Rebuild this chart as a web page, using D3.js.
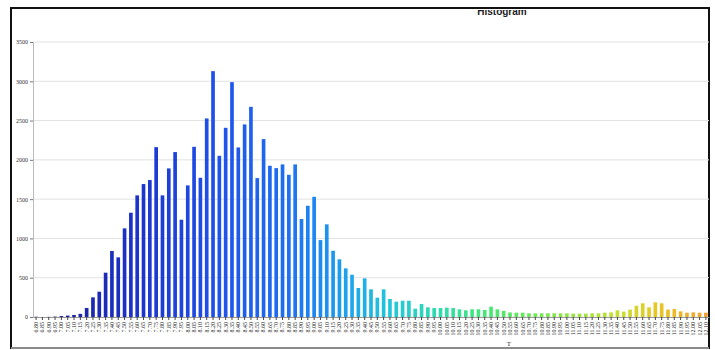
<!DOCTYPE html>
<html>
<head>
<meta charset="utf-8">
<script src="https://cdn.jsdelivr.net/npm/d3@7"></script>
<style>
  html, body { margin: 0; padding: 0; background: #fff; }
  svg { display: block; }
</style>
</head>
<body>
<svg id="chart" width="715" height="350"></svg>
<script>
// Bin labels along the x axis
const binLabels = [
  "6.80","6.85","6.90","6.95","7.00","7.05","7.10","7.15","7.20","7.25",
  "7.30","7.35","7.40","7.45","7.50","7.55","7.60","7.65","7.70","7.75",
  "7.80","7.85","7.90","7.95","8.00","8.05","8.10","8.15","8.20","8.25",
  "8.30","8.35","8.40","8.45","8.50","8.55","8.60","8.65","8.70","8.75",
  "8.80","8.85","8.90","8.95","9.00","9.05","9.10","9.15","9.20","9.25",
  "9.30","9.35","9.40","9.45","9.50","9.55","9.60","9.65","9.70","9.75",
  "9.80","9.85","9.90","9.95","10.00","10.05","10.10","10.15","10.20","10.25",
  "10.30","10.35","10.40","10.45","10.50","10.55","10.60","10.65","10.70","10.75",
  "10.80","10.85","10.90","10.95","11.00","11.05","11.10","11.15","11.20","11.25",
  "11.30","11.35","11.40","11.45","11.50","11.55","11.60","11.65","11.70","11.75",
  "11.80","11.85","11.90","11.95","12.00","12.05","12.10"
];

// Count in each bin
const counts = [
  3, 0, 2, 5, 12, 18, 25, 40, 115, 250,
  322, 564, 840, 759, 1128, 1327, 1548, 1692, 1743, 2162,
  1548, 1891, 2099, 1238, 1675, 2166, 1772, 2527, 3129, 2052,
  2408, 2989, 2158, 2451, 2675, 1768, 2264, 1925, 1895, 1942,
  1810, 1942, 1247, 1416, 1530, 979, 1179, 843, 734, 619,
  538, 369, 492, 352, 246, 352, 229, 195, 207, 207,
  106, 165, 123, 114, 114, 119, 114, 98, 85, 98,
  98, 89, 131, 98, 78, 58, 55, 55, 47, 47,
  47, 47, 47, 47, 47, 43, 43, 43, 47, 47,
  55, 59, 85, 68, 94, 144, 174, 123, 187, 174,
  94, 102, 72, 55, 59, 55, 55
];

// Y axis tick values
const yTicks = [0, 500, 1000, 1500, 2000, 2500, 3000, 3500];

// Colour ramp stops along the bins (bin index -> colour)
const rampIndex = [0, 15, 28, 40, 48, 56, 64, 72, 82, 92, 98, 106];
const rampColors = ["#1a1c90", "#1c32c8", "#1f4fea", "#1e70f2", "#1c9cf0", "#22c6da",
                    "#2fdcac", "#48e872", "#82e64a", "#c6e032", "#e6c824", "#f0a232"];

const data = binLabels.map((label, i) => ({ label, value: counts[i], index: i }));

const svg = d3.select("#chart");

const plotLeft = 33, plotRight = 709, plotTop = 42, plotBottom = 317;

const x = d3.scaleBand()
  .domain(binLabels)
  .range([plotLeft, plotRight])
  .paddingInner(0.42)
  .paddingOuter(0.2);

const y = d3.scaleLinear()
  .domain([0, 3500])
  .range([plotBottom, plotTop]);

const color = d3.scaleLinear()
  .domain(rampIndex)
  .range(rampColors)
  .interpolate(d3.interpolateRgb);

// Panel frame
svg.append("rect")
  .attr("x", 11).attr("y", 8)
  .attr("width", 698).attr("height", 340)
  .attr("fill", "none")
  .attr("stroke", "#111")
  .attr("stroke-width", 2);
svg.append("line")
  .attr("x1", 11).attr("x2", 709)
  .attr("y1", 348).attr("y2", 348)
  .attr("stroke", "#8a8a8a")
  .attr("stroke-width", 2);

// Title, partly hidden under the frame's top edge
svg.append("defs").append("clipPath").attr("id", "titleClip")
  .append("rect").attr("x", 0).attr("y", 10).attr("width", 715).attr("height", 20);
svg.append("text")
  .attr("clip-path", "url(#titleClip)")
  .attr("x", 502).attr("y", 15)
  .attr("text-anchor", "middle")
  .attr("font-family", "Liberation Sans, Arial, sans-serif")
  .attr("font-weight", "bold")
  .attr("font-size", 10)
  .attr("fill", "#222")
  .text("Histogram");

// Horizontal gridlines
svg.append("g")
  .selectAll("line")
  .data(yTicks.filter(d => d > 0))
  .join("line")
  .attr("x1", plotLeft).attr("x2", plotRight)
  .attr("y1", d => y(d)).attr("y2", d => y(d))
  .attr("stroke", "#e2e2e2")
  .attr("stroke-width", 1);

// Bars
svg.append("g")
  .selectAll("rect")
  .data(data)
  .join("rect")
  .attr("x", d => x(d.label))
  .attr("y", d => y(d.value))
  .attr("width", x.bandwidth())
  .attr("height", d => y(0) - y(d.value))
  .attr("fill", d => color(d.index));

// Y axis
const yAxis = svg.append("g")
  .attr("transform", `translate(${plotLeft},0)`)
  .call(d3.axisLeft(y).tickValues(yTicks).tickSize(3).tickPadding(2).tickFormat(d3.format("d")));
yAxis.select(".domain").attr("stroke", "#bbb");
yAxis.selectAll(".tick line").attr("stroke", "#777");
yAxis.selectAll("text")
  .attr("font-family", "Liberation Serif, Times New Roman, serif")
  .attr("font-size", 6)
  .attr("fill", "#333");

// X axis
const xAxis = svg.append("g")
  .attr("transform", `translate(0,${plotBottom})`)
  .call(d3.axisBottom(x).tickSize(3).tickPadding(2).tickSizeOuter(0));
xAxis.select(".domain").attr("stroke", "#999");
xAxis.selectAll(".tick line").attr("stroke", "#444");
xAxis.selectAll("text")
  .attr("font-family", "Liberation Serif, Times New Roman, serif")
  .attr("font-size", 6)
  .attr("fill", "#222")
  .attr("text-anchor", "end")
  .attr("dy", "0.32em")
  .attr("transform", "translate(0,5) rotate(-90)")
  .attr("x", 0).attr("y", 0);

// X axis title
svg.append("text")
  .attr("x", 509).attr("y", 346)
  .attr("text-anchor", "middle")
  .attr("font-family", "Liberation Serif, Times New Roman, serif")
  .attr("font-size", 7)
  .attr("fill", "#333")
  .text("T");
</script>
</body>
</html>
